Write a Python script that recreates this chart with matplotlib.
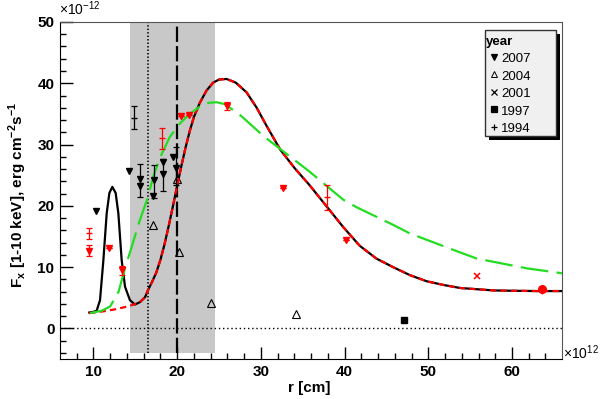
import matplotlib
matplotlib.use('Agg')
import matplotlib.pyplot as plt
from matplotlib.patches import Rectangle

plt.rcParams['font.family'] = ['Liberation Sans', 'DejaVu Sans']
plt.rcParams['mathtext.fontset'] = 'custom'
plt.rcParams['mathtext.rm'] = 'Liberation Sans'
plt.rcParams['mathtext.bf'] = 'Liberation Sans:bold'
plt.rcParams['lines.scale_dashes'] = False

# model curves (r in 1e12 cm, flux in 1e-12)
tail_x = [15.56, 16.16, 16.5, 17.0, 17.5, 18.0, 18.5, 19.0, 19.5, 20.0, 20.5, 21.0,
          21.5, 22.0, 22.7, 23.5, 24.3, 25.0, 25.9, 27.0, 28.3, 29.5, 30.7, 32.3,
          34.0, 35.8, 37.8, 39.8, 41.8, 43.8, 45.8, 47.8, 49.8, 51.8, 53.8, 55.8,
          57.8, 60.0, 63.0, 66.0]
tail_y = [4.3, 5.1, 6.2, 7.6, 9.1, 11.2, 13.8, 16.8, 20.0, 23.3, 26.5, 29.5,
          32.2, 34.5, 36.8, 38.8, 40.1, 40.6, 40.7, 40.1, 38.5, 36.0, 33.0, 29.2,
          26.2, 23.4, 20.0, 16.6, 13.5, 11.4, 10.0, 8.7, 7.7, 7.1, 6.6, 6.4,
          6.2, 6.15, 6.1, 6.1]

peak_x = [9.5, 10.0, 10.38, 10.78, 11.18, 11.58, 11.9, 12.25, 12.65, 12.97, 13.37,
          13.77, 14.36, 14.96]
peak_y = [2.6, 2.7, 2.9, 4.6, 11.1, 18.8, 22.1, 23.1, 22.1, 18.8, 11.1, 6.8, 4.6, 3.9]

low_x = [9.5, 11.2, 12.5, 13.8, 14.6]
low_y = [2.5, 2.8, 3.1, 3.5, 3.8]

green_x = [9.6, 11.0, 12.0, 13.0, 13.8, 14.5, 15.5, 16.4, 17.2, 18.0, 19.1, 20.3,
           21.5, 22.7, 23.7, 24.7, 25.7, 27.7, 30.3, 32.0, 35.8, 37.9, 39.85, 41.4,
           45.8, 47.8, 53.8, 55.8, 61.8, 66.0]
green_y = [2.5, 2.9, 3.6, 6.0, 10.0, 13.0, 17.5, 21.0, 25.0, 28.0, 31.2, 33.4,
           35.0, 36.2, 36.8, 36.9, 36.6, 34.6, 31.4, 29.6, 25.6, 23.2, 21.0, 19.8,
           16.9, 15.5, 12.4, 11.4, 9.8, 9.0]

# measurements
bk07_x = [10.26, 14.2, 15.6, 15.6, 17.2, 17.15, 18.3, 18.3, 19.5, 19.9]
bk07_y = [19.1, 25.7, 24.3, 23.3, 24.2, 21.6, 27.1, 25.2, 28.0, 26.2]
bk07_err_x = [15.6, 17.2, 18.3, 19.9]
bk07_err_y = [24.3, 24.2, 25.2, 26.2]
bk07_err_lo = [2.8, 2.9, 2.7, 2.8]
bk07_err_hi = [2.6, 2.4, 2.5, 3.4]

rd07_x = [9.5, 11.8, 13.4, 20.46, 21.4, 25.9, 32.7, 40.2]
rd07_y = [12.7, 13.1, 9.5, 34.6, 34.75, 36.3, 22.9, 14.4]
rd07_err = [0.9, 0.0, 0.7, 0.0, 0.0, 0.6, 0.0, 0.0]

bk04_x = [17.15, 20.0, 20.2, 24.0, 34.2]
bk04_y = [16.9, 24.4, 12.5, 4.1, 2.4]

bk97_x = [47.1]
bk97_y = [1.4]

rd01_x = [55.8]
rd01_y = [8.5]

rdpt_x = [63.6]
rdpt_y = [6.4]
rdpt_err = [0.7]

rd94_x = [9.5, 18.2, 37.9]
rd94_y = [15.5, 31.0, 21.4]
rd94_lo = [0.9, 1.8, 2.1]
rd94_hi = [0.9, 1.7, 2.0]

bk94_x = [14.9]
bk94_y = [34.4]
bk94_lo = [1.9]
bk94_hi = [1.9]

band = [14.36, 24.5]
dotted_r = 16.5
dashed_r = 20.0

legend_years = ['2007', '2004', '2001', '1997', '1994']
legend_marks = ['v', '^', 'x', 's', '+']

red = '#ff0000'
green = '#22dd22'

fig = plt.figure(figsize=(6, 3.99), dpi=100)
ax = fig.add_axes([0.1, 0.1, 0.837, 0.845])
ax.set_xlim(6, 66)
ax.set_ylim(-5, 50)

ax.fill_between(band, -4, 50, color='#c8c8c8', lw=0, zorder=0)
ax.axhline(0, color='black', lw=1, ls=(0, (1, 2)), zorder=1)

ax.plot(peak_x + tail_x, peak_y + tail_y, color='black', lw=1.6, zorder=3)
ax.plot(low_x + tail_x, low_y + tail_y, color=red, lw=1.6, ls=(0, (4.5, 3)), zorder=4)
ax.plot(green_x, green_y, color=green, lw=1.6, ls=(0, (20, 6)), zorder=4)

ax.plot(bk04_x, bk04_y, ls='none', marker='^', ms=5.5, mfc='none', mec='black', mew=0.8, zorder=2)

ax.plot([dotted_r, dotted_r], [-4, 50], color='black', lw=1.2, ls=(0, (1, 1.5)), zorder=2.5)
ax.plot([dashed_r, dashed_r], [-4, 49.3], color='black', lw=1.6, ls=(0, (11, 3)), zorder=2.5)

ax.errorbar(bk07_err_x, bk07_err_y, yerr=[bk07_err_lo, bk07_err_hi], fmt='none',
            ecolor='black', elinewidth=0.9, capsize=2, capthick=0.9, zorder=5)
ax.plot(bk07_x, bk07_y, ls='none', marker='v', ms=5, color='black', zorder=6)

ax.errorbar(rd07_x, rd07_y, yerr=rd07_err, fmt='none', ecolor=red, elinewidth=0.9,
            capsize=2, capthick=0.9, zorder=5)
ax.plot(rd07_x, rd07_y, ls='none', marker='v', ms=5, color=red, zorder=6)

ax.plot(bk97_x, bk97_y, ls='none', marker='s', ms=4.5, color='black', zorder=6)
ax.plot(rd01_x, rd01_y, ls='none', marker='x', ms=5, mew=1.1, color=red, zorder=6)
ax.errorbar(rdpt_x, rdpt_y, yerr=rdpt_err, fmt='o', ms=5.5, color=red, elinewidth=0.9,
            capsize=0, zorder=6)

ax.errorbar(rd94_x, rd94_y, yerr=[rd94_lo, rd94_hi], fmt='_', ms=5, color=red,
            elinewidth=0.9, capsize=2, capthick=0.9, zorder=6)
ax.errorbar(bk94_x, bk94_y, yerr=[bk94_lo, bk94_hi], fmt='_', ms=5, color='black',
            elinewidth=0.9, capsize=2, capthick=0.9, zorder=6)

# axes styling (ROOT-like)
ax.set_xticks(range(10, 61, 10))
ax.set_xticks(range(8, 66, 2), minor=True)
ax.set_yticks(range(0, 51, 10))
ax.set_yticks(range(-4, 50, 2), minor=True)
ax.tick_params(which='both', direction='in', top=False, right=False, pad=4)
ax.tick_params(which='major', length=9, width=1)
ax.tick_params(which='minor', length=4.5, width=1)
for lab in ax.get_xticklabels() + ax.get_yticklabels():
    lab.set_fontweight('bold')
    lab.set_fontsize(11)
for side in ['top', 'right']:
    ax.spines[side].set_color('#555555')
for side in ['left', 'bottom']:
    ax.spines[side].set_color('black')

fig.text(0.098, 0.955, r'$\times$10$^{-12}$', fontsize=10, ha='left', va='bottom')
fig.text(0.938, 0.115, r'$\times$10$^{12}$', fontsize=10, ha='left', va='center')
fig.text(0.515, 0.028, 'r [cm]', fontsize=11, fontweight='bold', ha='center', va='center')
fig.text(0.03, 0.51, r'F$_{\mathbf{x}}$ [1-10 keV], erg cm$^{\mathbf{-2}}$s$^{\mathbf{-1}}$',
         fontsize=11, fontweight='bold', rotation=90, ha='center', va='center')

# legend box with hard shadow
x0, x1 = 485 / 600, 556 / 600
y0, y1 = 1 - 136 / 399, 1 - 30 / 399
dx, dy = 4 / 600, -4 / 399
fig.patches.append(Rectangle((x0 + dx, y0 + dy), x1 - x0, y1 - y0, transform=fig.transFigure,
                             facecolor='black', edgecolor='none', zorder=10))
fig.patches.append(Rectangle((x0, y0), x1 - x0, y1 - y0, transform=fig.transFigure,
                             facecolor='#f0f0f0', edgecolor='#333333', lw=1, zorder=11))
fig.text(x0 + 0.002, 1 - 42 / 399, 'year', fontsize=9.5, fontweight='bold',
         ha='left', va='center', zorder=12)
for i, (yr, mk) in enumerate(zip(legend_years, legend_marks)):
    ty = 1 - (59 + i * 17.6) / 399
    my = ty + 2.5 / 399
    if mk == '^':
        fig.lines.append(plt.Line2D([493.5 / 600], [my], marker=mk, ms=4.5, mfc='none',
                                    mec='black', mew=0.7, transform=fig.transFigure, zorder=12))
    else:
        fig.lines.append(plt.Line2D([493.5 / 600], [my], marker=mk, ms=4.5, color='black',
                                    mew=0.9, transform=fig.transFigure, zorder=12))
    fig.text(501 / 600, ty, yr, fontsize=9.5, ha='left', va='center', zorder=12)

fig.savefig('out.png', dpi=100)
